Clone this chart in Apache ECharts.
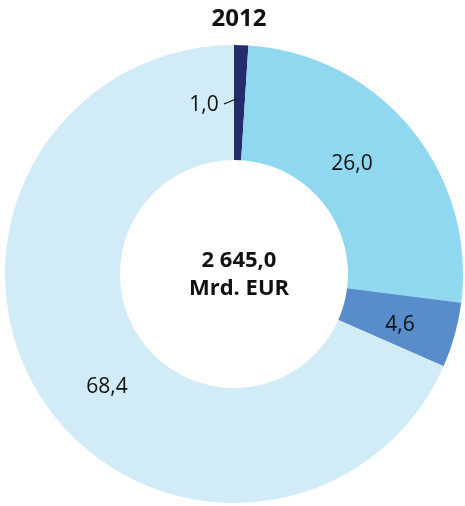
<!DOCTYPE html>
<html><head><meta charset="utf-8">
<style>html,body{margin:0;padding:0;background:#fff}#c{width:465px;height:506px}</style>
<script src="https://cdn.jsdelivr.net/npm/echarts@6/dist/echarts.min.js"></script>
</head><body><div id="c"></div>
<script>
const title = '2012';
const centerLines = ['2 645,0', 'Mrd. EUR'];
const categories = ['A', 'B', 'C', 'D'];
const values = [1.0, 26.0, 4.6, 68.4];
const labels = ['1,0', '26,0', '4,6', '68,4'];
const colors = ['#252b6b', '#8fd8f0', '#588cca', '#d2ecf7'];
const FONT = '"Open Sans", "Noto Sans", sans-serif';

const chart = echarts.init(document.getElementById('c'), null, {renderer: 'canvas'});
chart.setOption({
  animation: false,
  title: [{
    text: title, left: 234, top: -1, textAlign: 'center',
    textStyle: {fontFamily: FONT, fontWeight: 'bold', fontSize: 24, color: '#111', lineHeight: 30}
  }, {
    text: centerLines.join('\n'), left: 234, top: 242, textAlign: 'center',
    textStyle: {fontFamily: FONT, fontWeight: 'bold', fontSize: 22, color: '#111', lineHeight: 28}
  }],
  series: [{
    type: 'pie',
    center: [234, 274],
    radius: [114, 229],
    startAngle: 90,
    clockwise: true,
    avoidLabelOverlap: false,
    silent: true,
    itemStyle: {borderWidth: 0},
    label: {
      position: 'inside', fontFamily: FONT, fontSize: 21, color: '#111',
      formatter: p => labels[p.dataIndex]
    },
    labelLine: {show: false},
    labelLayout: function (params) {
      const spots = [[204, 105], [352, 164], [400, 325], [107, 387]];
      const s = spots[params.dataIndex];
      return {x: s[0], y: s[1], align: 'center', verticalAlign: 'middle'};
    },
    data: categories.map((c, i) => ({name: c, value: values[i], itemStyle: {color: colors[i]}}))
  }],
  graphic: [{
    type: 'line', z: 100, shape: {x1: 224, y1: 104, x2: 236, y2: 99},
    style: {stroke: '#111', lineWidth: 1.3}
  }]
});
</script></body></html>
